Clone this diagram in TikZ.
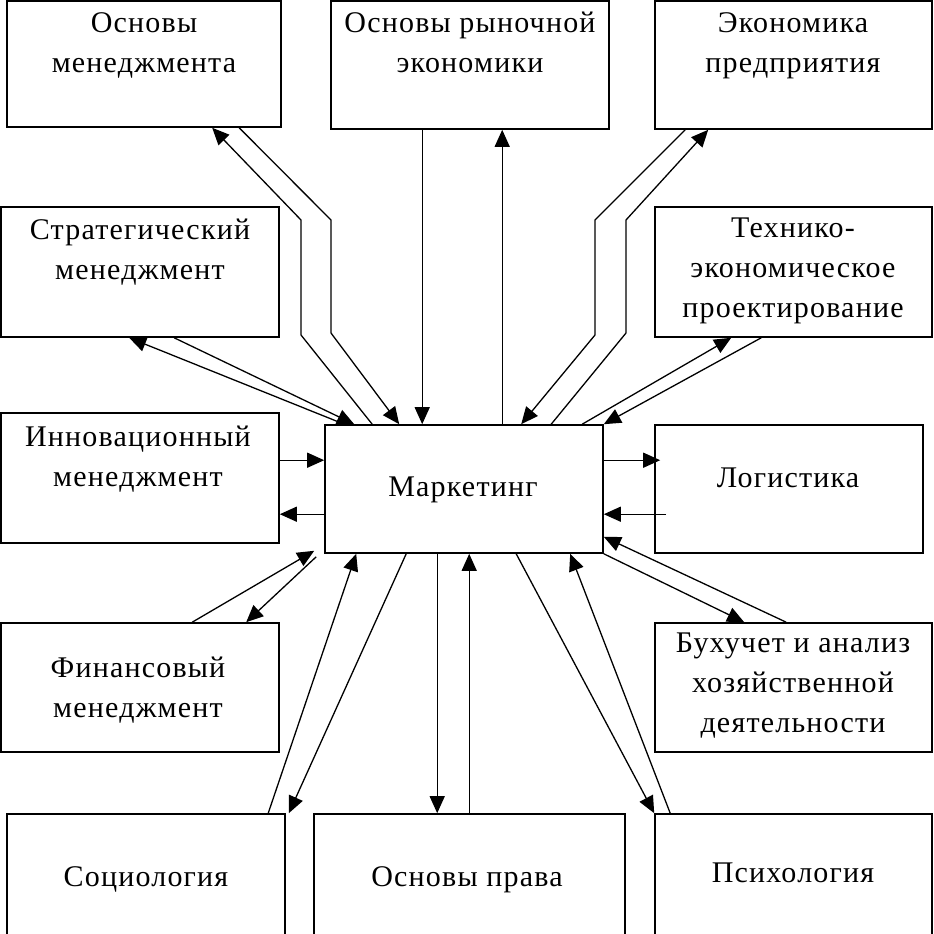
\documentclass[tikz,border=0pt]{standalone}
\usepackage{fontspec}
\setmainfont{Liberation Serif}[LetterSpace=4.0]
\usetikzlibrary{arrows.meta}

\begin{document}
\begin{tikzpicture}[x=1pt,y=-1pt,
		box/.style={draw, line width=1.6pt, minimum width=277pt, minimum height=128pt, inner sep=0pt},
		txt/.style={align=center, anchor=base, inner sep=0pt, font=\fontsize{30pt}{40pt}\selectfont},
		arr/.style={line width=1.3pt, -{Triangle[length=17pt,width=15pt]}}]
	\useasboundingbox (0,0) rectangle (934,934);
	\clip (0,0) rectangle (934,934);

	\node[box, minimum width=274pt, minimum height=126pt] (osm) at (144,64) {};
	\node[box, minimum width=278pt] (ore) at (470,65) {};
	\node[box] (ekp) at (793.5,65) {};
	\node[box, minimum width=278pt, minimum height=130pt] (strm) at (140,272) {};
	\node[box, minimum height=130pt] (tep) at (793.5,272) {};
	\node[box, minimum width=278pt, minimum height=130pt] (innm) at (140,478) {};
	\node[box, minimum width=278pt] (mark) at (464,489) {};
	\node[box, minimum width=268pt] (log) at (789,489) {};
	\node[box, minimum width=278pt, minimum height=129pt] (finm) at (140,687.5) {};
	\node[box, minimum height=129pt] (buh) at (793.5,687.5) {};
	\node[box, minimum width=278pt, minimum height=136pt] (soc) at (146,882) {};
	\node[box, minimum width=311pt, minimum height=136pt] (prav) at (469.5,882) {};
	\node[box, minimum height=136pt] (psy) at (793.5,882) {};

	\node[txt] (osmt) at (144,73) {Основы\\менеджмента};
	\node[txt] (oret) at (470,73) {Основы рыночной\\экономики};
	\node[txt] (ekpt) at (793,73) {Экономика\\предприятия};
	\node[txt] (strmt) at (140,279) {Стратегический\\менеджмент};
	\node[txt] (tept) at (793,317) {Технико-\\экономическое\\проектирование};
	\node[txt] (innmt) at (138,486) {Инновационный\\менеджмент};
	\node[txt] (markt) at (463,496) {Маркетинг};
	\node[txt] (logt) at (788,487) {Логистика};
	\node[txt] (finmt) at (138,717) {Финансовый\\менеджмент};
	\node[txt] (buht) at (793,732) {Бухучет и анализ\\хозяйственной\\деятельности};
	\node[txt] (soct) at (146,886) {Социология};
	\node[txt] (pravt) at (467,886) {Основы права};
	\node[txt] (psyt) at (793,882) {Психология};

	\draw[arr] ([xshift=48pt]mark.north west) -- (301,335) -- (301,220) -- ([xshift=206pt]osm.south west);
	\draw[arr] ([xshift=233pt]osm.south west) -- (331,220) -- (331,333) -- ([xshift=75pt]mark.north west);
	\draw[arr] ([xshift=92pt]ore.south west) -- ([xshift=98pt]mark.north west);
	\draw[arr] ([xshift=178pt]mark.north west) -- ([xshift=172pt]ore.south west);
	\draw[arr] ([xshift=31pt]ekp.south west) -- (595,220) -- (595,335) -- ([xshift=197pt]mark.north west);
	\draw[arr] ([xshift=227pt]mark.north west) -- (626,333) -- (626,220) -- ([xshift=54pt]ekp.south west);
	\draw[arr] ([xshift=20pt]mark.north west) -- ([xshift=129pt]strm.south west);
	\draw[arr] ([xshift=174pt]strm.south west) -- ([xshift=30pt]mark.north west);
	\draw[arr] ([xshift=258pt]mark.north west) -- ([xshift=77pt]tep.south west);
	\draw[arr] ([xshift=107pt]tep.south west) -- (mark.north east);
	\draw[arr] ([yshift=-48pt]innm.north east) -- ([yshift=-36pt]mark.north west);
	\draw[arr] ([yshift=-90pt]mark.north west) -- ([yshift=-102pt]innm.north east);
	\draw[arr] ([yshift=-36pt]mark.north east) -- ([xshift=6pt,yshift=-36pt]log.north west);
	\draw[arr] ([xshift=12pt,yshift=-90pt]log.north west) -- ([yshift=-90pt]mark.north east);
	\draw[arr] ([xshift=192pt]finm.north west) -- ([xshift=-10pt,yshift=3pt]mark.south west);
	\draw[arr] ([xshift=-8pt,yshift=-3pt]mark.south west) -- ([xshift=246pt]finm.north west);
	\draw[arr] (mark.south east) -- ([xshift=90pt]buh.north west);
	\draw[arr] ([xshift=132pt]buh.north west) -- ([yshift=17pt]mark.south east);
	\draw[arr] ([xshift=262pt]soc.north west) -- ([xshift=32pt]mark.south west);
	\draw[arr] ([xshift=82pt]mark.south west) -- ([xshift=3pt]soc.north east);
	\draw[arr] ([xshift=113pt]mark.south west) -- ([xshift=124pt]prav.north west);
	\draw[arr] ([xshift=156pt]prav.north west) -- ([xshift=145pt]mark.south west);
	\draw[arr] ([xshift=192pt]mark.south west) -- (psy.north west);
	\draw[arr] ([xshift=16pt]psy.north west) -- ([xshift=246pt]mark.south west);
\end{tikzpicture}
\end{document}
